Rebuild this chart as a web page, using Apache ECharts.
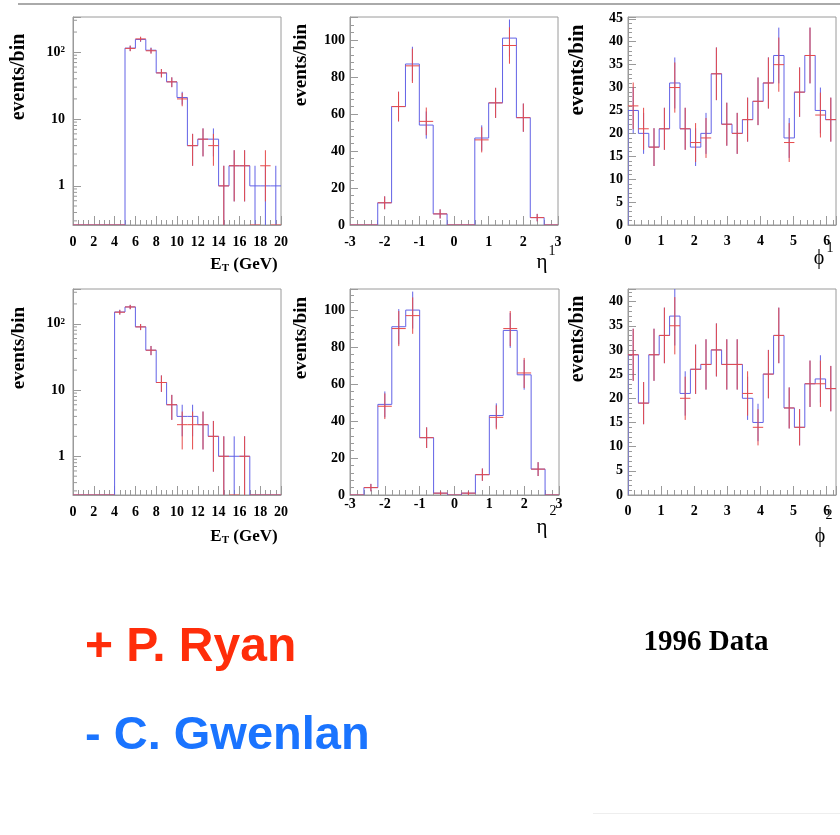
<!DOCTYPE html>
<html><head><meta charset="utf-8">
<script src="https://cdn.jsdelivr.net/npm/echarts@6/dist/echarts.min.js"></script>
<style>html,body{margin:0;padding:0;background:#fff}#c{width:840px;height:835px}</style>
</head><body><div id="c"></div><script>
// ---------------- data (counts per bin) ----------------
const etBinning  = {min: 0,  max: 20, n: 20};
const etaBinning = {min: -3, max: 3,  n: 15};
const phiBinning = {min: 0,  max: 2 * Math.PI, n: 20};

const et1Blue  = [0,0,0,0,0,115,155,107,49,36,21,4,5,5,1,2,2,1,1,1];
const et1Red   = [0,0,0,0,0,114,158,105,49,36,20,4,5,4,1,2,2,0,2,0];
const eta1Blue = [0,0,12,64,87,54,6,0,0,47,66,101,58,4,0];
const eta1Red  = [0,0,12,64,86,56,6,0,0,46,66,97,58,4,0];
const phi1Blue = [25,20,17,21,31,21,17,20,33,22,20,23,27,31,37,19,29,37,25,23];
const phi1Red  = [26,21,17,21,30,21,18,19,33,22,20,23,27,31,35,18,29,37,24,23];

const et2Blue  = [0,0,0,0,151,180,90,40,13,6,4,4,3,2,1,1,1,0,0,0];
const et2Red   = [0,0,0,0,150,180,90,40,13,6,3,3,3,2,1,0,1,0,0,0];
const eta2Blue = [0,4,49,91,100,31,1,0,1,11,43,89,65,14,0];
const eta2Red  = [0,4,48,90,97,31,1,0,1,11,42,90,66,14,0];
const phi2Blue = [29,19,29,33,37,21,26,27,30,27,27,20,15,25,33,18,14,23,24,22];
const phi2Red  = [29,19,29,33,35,20,26,27,30,27,27,21,14,25,33,18,14,23,23,22];

const logMinorTicks = [0.3,0.4,0.5,0.6,0.7,0.8,0.9,2,3,4,5,6,7,8,9,20,30,40,50,60,70,80,90,200,300];

// ---------------- styling ----------------
const BLUE = '#6262e6', RED = '#e64a4a', FRAME = '#9a9a9a';
const SERIF = '"Liberation Serif", "Times New Roman", serif';
const SANS = '"Liberation Sans", Arial, sans-serif';

const panels = [
  {rect:[73,17,208,208],  bins:etBinning,  blue:et1Blue,  red:et1Red,  log:true,  ymin:0.26, ymax:336, xint:2, xsplit:4, xm:10},
  {rect:[350,17,208,208], bins:etaBinning, blue:eta1Blue, red:eta1Red, log:false, ymin:0, ymax:112.4, yint:20, ysplit:5, xint:1, xsplit:5, xm:10},
  {rect:[628,17,208,208], bins:phiBinning, blue:phi1Blue, red:phi1Red, log:false, ymin:0, ymax:45.4, yint:5, ysplit:5, xint:1, xsplit:5, xm:9},
  {rect:[73,289,208,206], bins:etBinning,  blue:et2Blue,  red:et2Red,  log:true,  ymin:0.26, ymax:336, xint:2, xsplit:4, xm:10},
  {rect:[350,289,209,206],bins:etaBinning, blue:eta2Blue, red:eta2Red, log:false, ymin:0, ymax:111.4, yint:20, ysplit:5, xint:1, xsplit:5, xm:2},
  {rect:[628,289,208,206],bins:phiBinning, blue:phi2Blue, red:phi2Red, log:false, ymin:0, ymax:42.6, yint:5, ysplit:5, xint:1, xsplit:5, xm:9}
];

function onStep(v, step){ return Math.abs(v/step - Math.round(v/step)) < 1e-6; }

const grids = [], xAxes = [], yAxes = [], series = [];
const labelStyle = {color:'#000', fontFamily: SERIF, fontWeight:'bold', fontSize:14};

panels.forEach((p, i) => {
  grids.push({left:p.rect[0], top:p.rect[1], width:p.rect[2], height:p.rect[3], show:true,
    borderColor:FRAME, borderWidth:1, backgroundColor:'transparent', containLabel:false, outerBoundsMode:'none'});
  xAxes.push({gridIndex:i, type:'value', min:p.bins.min, max:p.bins.max, interval:p.xint,
    axisLine:{show:true, onZero:false, lineStyle:{color:FRAME}},
    axisTick:{show:true, inside:true, length:9, lineStyle:{color:FRAME}},
    minorTick:{show:true, splitNumber:p.xsplit, length:5, lineStyle:{color:FRAME}},
    splitLine:{show:false}, minorSplitLine:{show:false},
    axisLabel:Object.assign({margin:p.xm, showMaxLabel:true, showMinLabel:true,
      formatter: v => onStep(v, p.xint) ? String(Math.round(v)) : ''}, labelStyle)});
  if (p.log) {
    yAxes.push({gridIndex:i, type:'log', logBase:10, min:p.ymin, max:p.ymax,
      axisLine:{show:true, onZero:false, lineStyle:{color:FRAME}},
      axisTick:{show:true, inside:true, length:8, lineStyle:{color:FRAME}},
      splitLine:{show:false},
      axisLabel:Object.assign({margin:8,
        formatter: v => { const l = Math.log10(v), r = Math.round(l);
          if (Math.abs(l - r) > 1e-6) return '';
          return r === 0 ? '1' : r === 1 ? '10' : '10{s|' + r + '}'; },
        rich:{s:{fontSize:9, fontWeight:'bold', fontFamily:SERIF, verticalAlign:'top', color:'#000'}}
      }, labelStyle)});
  } else {
    yAxes.push({gridIndex:i, type:'value', min:p.ymin, max:p.ymax, interval:p.yint,
      axisLine:{show:true, onZero:false, lineStyle:{color:FRAME}},
      axisTick:{show:true, inside:true, length:8, lineStyle:{color:FRAME}},
      minorTick:{show:true, splitNumber:p.ysplit, length:4, lineStyle:{color:FRAME}},
      splitLine:{show:false}, minorSplitLine:{show:false},
      axisLabel:Object.assign({margin:5,
        formatter: v => onStep(v, p.yint) ? String(Math.round(v)) : ''}, labelStyle)});
  }
  const w = (p.bins.max - p.bins.min) / p.bins.n;
  const logMin = p.log ? p.ymin : null;
  const refY = p.log ? 1 : 0;
  const mk = (vals, color, kind) => ({
    type:'custom', xAxisIndex:i, yAxisIndex:i, clip:true, silent:true, z: kind === 'blue' ? 2 : 3,
    data: vals.map((v, k) => [p.bins.min + k*w, p.bins.min + (k+1)*w, v, k > 0 ? vals[k-1] : 0]),
    encode:{x:0, y:1},
    renderItem(params, api) {
      const xl = api.value(0), xr = api.value(1), v = api.value(2), pv = api.value(3);
      const Y = val => { if (logMin !== null && val <= logMin) val = logMin; return api.coord([xl, val])[1]; };
      const XL = api.coord([xl, refY])[0], XR = api.coord([xr, refY])[0], XC = (XL + XR) / 2;
      const st = {stroke: color, lineWidth: 1};
      const ch = [];
      ch.push({type:'line', shape:{x1:XL, y1:Y(v), x2:XR, y2:Y(v)}, style:st});
      if (kind === 'blue' && pv !== v) ch.push({type:'line', shape:{x1:XL, y1:Y(pv), x2:XL, y2:Y(v)}, style:st});
      if (v > 0) { const e = Math.sqrt(v);
        ch.push({type:'line', shape:{x1:XC, y1:Y(v - e), x2:XC, y2:Y(v + e)}, style:st}); }
      return {type:'group', children: ch};
    }
  });
  series.push(mk(p.blue, BLUE, 'blue'));
  series.push(mk(p.red, RED, 'red'));
  if (p.log) {
    series.push({type:'custom', xAxisIndex:i, yAxisIndex:i, silent:true, z:4,
      data: logMinorTicks.map(t => [p.bins.min, t]), encode:{x:0, y:1},
      renderItem(params, api) { const pt = api.coord([api.value(0), api.value(1)]);
        return {type:'line', shape:{x1:pt[0], y1:pt[1], x2:pt[0] + 4, y2:pt[1]}, style:{stroke:FRAME, lineWidth:1}}; }});
  }
});

const T = (text, x, y, o) => ({type:'text', x, y, style:Object.assign({text, fill:'#000',
  fontFamily:SERIF, fontWeight:'bold', fontSize:19, align:'center', verticalAlign:'middle'}, o || {})});
const yTitle = (x, y, fs) => ({type:'text', x, y, rotation:Math.PI/2, style:{text:'events/bin', fill:'#000',
  fontFamily:SERIF, fontWeight:'bold', fontSize:fs, align:'center', verticalAlign:'middle'}});
const etTitle = (x, y) => ({type:'text', x, y, style:{text:'{a|E}{b|T}{a| (GeV)}', align:'center', verticalAlign:'middle',
  rich:{a:{fontFamily:SERIF, fontWeight:'bold', fontSize:17, fill:'#000', verticalAlign:'bottom'},
        b:{fontFamily:SERIF, fontWeight:'bold', fontSize:11, fill:'#000', verticalAlign:'bottom'}}}});

const graphics = [
  {type:'line', shape:{x1:18, y1:4, x2:840, y2:4}, style:{stroke:'#aaaaaa', lineWidth:2}},
  {type:'line', shape:{x1:593, y1:813.5, x2:840, y2:813.5}, style:{stroke:'#eeeeee', lineWidth:1}},
  yTitle(19, 77, 20), yTitle(301, 65, 19), yTitle(578, 70, 21),
  yTitle(19, 348, 19), yTitle(301, 338, 19), yTitle(578, 339, 20),
  etTitle(244, 265), etTitle(244, 537),
  T('η', 542, 262, {fontWeight:'normal', fontSize:21}), T('1', 552, 251, {fontWeight:'normal', fontSize:14}),
  T('ϕ', 819, 259, {fontWeight:'normal', fontSize:20}), T('1', 830, 248, {fontWeight:'normal', fontSize:14}),
  T('η', 542, 527, {fontWeight:'normal', fontSize:21}), T('2', 553, 511, {fontWeight:'normal', fontSize:14}),
  T('ϕ', 820, 537, {fontWeight:'normal', fontSize:20}), T('2', 829, 515, {fontWeight:'normal', fontSize:14}),
  T('+ P. Ryan', 85, 648, {fontFamily:SANS, fontSize:48, fill:'#ff2d0a', align:'left'}),
  T('- C. Gwenlan', 85, 736, {fontFamily:SANS, fontSize:47, fill:'#1a74ff', align:'left'}),
  T('1996 Data', 706, 643, {fontSize:29})
];

const chart = echarts.init(document.getElementById('c'), null, {renderer:'canvas'});
chart.setOption({animation:false, backgroundColor:'#fff', grid:grids, xAxis:xAxes, yAxis:yAxes, series, graphic:graphics});
</script></body></html>
